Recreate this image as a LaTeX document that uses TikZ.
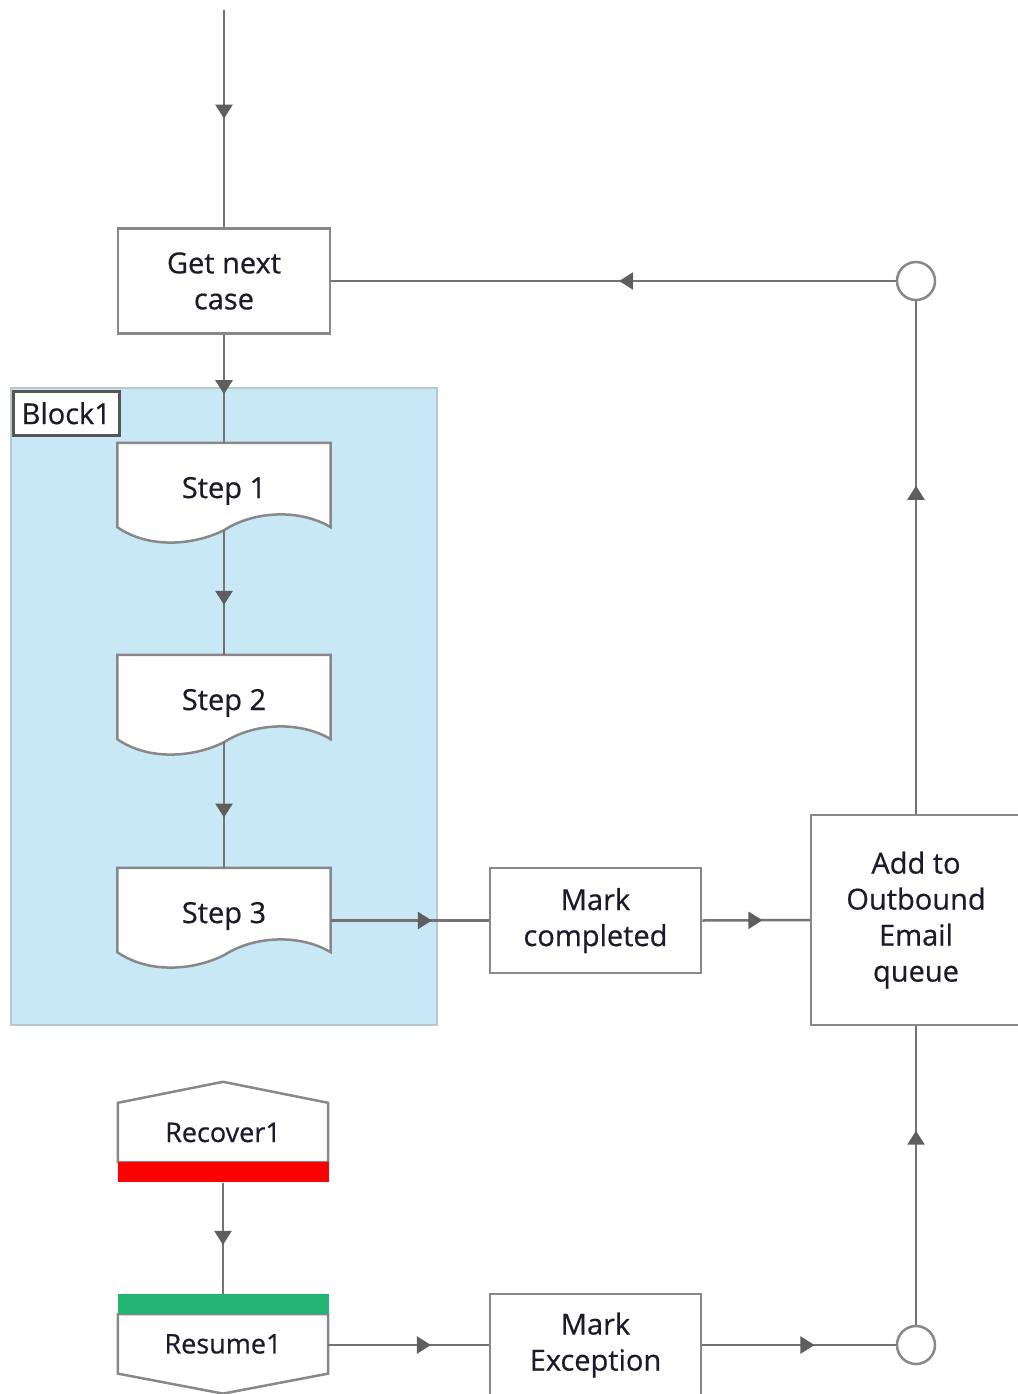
\documentclass[tikz,border=0pt]{standalone}
\usepackage{fontspec}
\setmainfont{Open Sans}[FakeBold=0.6]
\usetikzlibrary{arrows.meta,decorations.markings,calc}
\pgfdeclarelayer{bg}
\pgfdeclarelayer{shapes}
\pgfsetlayers{bg,shapes,main}

\definecolor{linegray}{HTML}{737373}
\definecolor{boxgray}{HTML}{888888}
\definecolor{labelgray}{HTML}{555555}
\definecolor{blockblue}{HTML}{C9E8F5}
\definecolor{blockedge}{HTML}{B8C8CE}
\definecolor{tipgray}{HTML}{5E5E5E}
\definecolor{txt}{HTML}{1B1B2B}
\definecolor{recred}{HTML}{FF0000}
\definecolor{resgreen}{HTML}{23B573}

\tikzset{
  flow/.style={draw=linegray, line width=2.5pt},
  tipat/.style={postaction={decorate,decoration={markings,
      mark=at position #1 with {\arrow[tipgray]{Triangle[length=14pt,width=17pt]}}}}},
  txtbase/.style={inner sep=0pt, align=center, text=txt, font=\fontsize{29}{36}\selectfont},
  box/.style={txtbase, draw=boxgray, line width=2.5pt, fill=white},
  shapeline/.style={draw=boxgray, line width=2.5pt, fill=white},
  docnode/.style={txtbase, minimum width=213pt, minimum height=84pt},
  hexnode/.style={txtbase, minimum width=210pt, font=\fontsize{27}{32}\selectfont},
  bar/.style={inner sep=0pt, minimum width=211pt, minimum height=20pt},
  junction/.style={circle, draw=boxgray, line width=2.5pt, fill=white, minimum size=38pt, inner sep=0pt},
}

% document-shaped step with a wavy bottom edge; the label sits a little low
\newcommand\docstep[3]{%
  \node[docnode] (#1) at (#2) {};
  \node[txtbase] (#1-t) at ([shift={(0,6)}]#1.center) {#3};
  \coordinate (#1-w) at ([shift={(0,3)}]#1.south);
  \begin{pgfonlayer}{shapes}
    \draw[shapeline] (#1.north west) -- (#1.south west)
      .. controls +(32,22) and +(-30,15) .. (#1-w)
      .. controls +(31,-20) and +(-30,-18) .. (#1.south east)
      -- (#1.north east) -- cycle;
  \end{pgfonlayer}}

\begin{document}
\begin{tikzpicture}[x=1pt,y=-1pt]
\useasboundingbox (0,0) rectangle (1017,1394);

% container block
\begin{pgfonlayer}{bg}
  \node[draw=blockedge, fill=blockblue, line width=2pt, minimum width=426pt,
        minimum height=637pt, inner sep=0pt] (blk) at (224,706.5) {};
\end{pgfonlayer}
\node[txtbase, draw=labelgray, fill=white, line width=2.5pt, minimum width=106pt,
      minimum height=44pt, anchor=north west] (blklbl) at (12,390) {Block1};

% main path
\coordinate (start) at (224,10);
\node[box, minimum width=212pt, minimum height=105pt] (gnc) at (224,281) {Get next\\case};
\docstep{s1}{224,485}{Step 1}
\docstep{s2}{224,697}{Step 2}
\docstep{s3}{224,910}{Step 3}
\node[box, minimum width=211pt, minimum height=105pt] (mc) at (595.5,920.5) {Mark\\completed};
\node[box, minimum width=210pt, minimum height=210pt] (aq) at (916,920) {Add to\\Outbound\\Email\\queue};
\node[junction] (j1) at (916,281) {};
\node[junction] (j2) at (916,1345) {};

% recovery path
\node[hexnode, minimum height=59pt] (r1) at (223,1132.5) {Recover1};
\node[bar, fill=recred, anchor=north] (r1bar) at (r1.south) {};
\node[bar, fill=resgreen] (rs1bar) at (223,1304) {};
\node[hexnode, minimum height=59pt, anchor=north] (rs1) at (rs1bar.south) {Resume1};
\node[box, minimum width=211pt, minimum height=102pt] (me) at (595.5,1345) {Mark\\Exception};
\begin{pgfonlayer}{shapes}
  \draw[shapeline] (r1.south west) -- (r1.north west) -- ([shift={(0,-21)}]r1.north)
    -- (r1.north east) -- (r1.south east) -- cycle;
  \draw[shapeline] (rs1.north west) -- (rs1.south west) -- ([shift={(0,20)}]rs1.south)
    -- (rs1.south east) -- (rs1.north east) -- cycle;
\end{pgfonlayer}

% connectors
\draw[flow, tipat=0.5] (start) -- (gnc.north);
\draw[flow, tipat=0.55] (gnc.south) -- (s1.north);
\draw[flow, tipat=0.6] (s1-w) -- (s2.north);
\draw[flow, tipat=0.6] (s2-w) -- (s3.north);
\draw[flow, tipat=0.64] (s3.east |- mc.west) -- (mc.west);
\draw[flow, tipat=0.56] (mc.east) -- (aq.west);
\draw[flow, tipat=0.64] (aq.north) -- (j1.south);
\draw[flow, tipat=0.49] (j1.west) -- (gnc.east);
\draw[flow, tipat=0.56] (r1bar.south) -- (rs1bar.north);
\draw[flow, tipat=0.64] (rs1.east |- me.west) -- (me.west);
\draw[flow, tipat=0.58] (me.east) -- (j2.west);
\draw[flow, tipat=0.65] (j2.north) -- (aq.south);
\end{tikzpicture}
\end{document}
